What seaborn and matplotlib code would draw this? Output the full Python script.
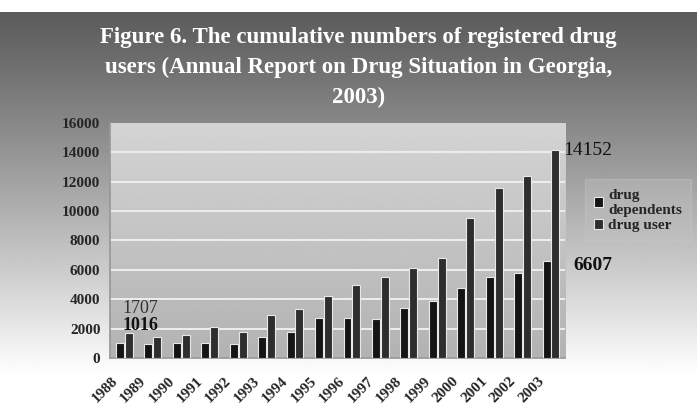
import numpy as np
import pandas as pd
import matplotlib
matplotlib.use("Agg")
import matplotlib.pyplot as plt
import matplotlib.transforms as mtransforms
import seaborn as sns

years = ["1988", "1989", "1990", "1991", "1992", "1993", "1994", "1995",
         "1996", "1997", "1998", "1999", "2000", "2001", "2002", "2003"]
drug_dependents = [1016, 950, 1050, 1050, 950, 1450, 1800, 2750,
                   2750, 2650, 3400, 3900, 4800, 5550, 5800, 6607]
drug_user = [1707, 1450, 1550, 2150, 1800, 2900, 3350, 4250,
             5000, 5550, 6100, 6800, 9500, 11600, 12400, 14152]
series_names = ["drug\ndependents", "drug user"]
y_ticks = [0, 2000, 4000, 6000, 8000, 10000, 12000, 14000, 16000]
title = ("Figure 6. The cumulative numbers of registered drug\n"
         "users (Annual Report on Drug Situation in Georgia,\n2003)")

df = pd.DataFrame({
    "year": years * 2,
    "value": drug_dependents + drug_user,
    "series": [series_names[0]] * len(years) + [series_names[1]] * len(years),
})

sns.set_theme(style="white")
plt.rcParams["font.family"] = ["Liberation Serif", "DejaVu Serif"]

fig = plt.figure(figsize=(6.97, 4.15), dpi=100)

# background gradient
bg = fig.add_axes([0, 0, 1, 1], zorder=-10)
h = 415
grad = np.ones((h, 2))
top_white = 13
for r in range(h):
    if r < top_white:
        grad[r] = 1.0
    else:
        t = (r - top_white) / (375 - top_white)
        t = min(max(t, 0), 1)
        grad[r] = 0.36 + (1.0 - 0.36) * (t ** 1.1)
bg.imshow(grad, cmap="gray", vmin=0, vmax=1, aspect="auto",
          extent=[0, 1, 0, 1], origin="upper")
bg.axis("off")

ax = fig.add_axes([0.158, 0.137, 0.653, 0.567])
# plot area gradient
pa = np.linspace(0.83, 0.70, 100).reshape(-1, 1)
ax.imshow(pa, cmap="gray", vmin=0, vmax=1, aspect="auto",
          extent=[-0.5, len(years) - 0.5, 0, 16000], origin="upper", zorder=0)

palette = {series_names[0]: "#141414", series_names[1]: "#2e2e2e"}
sns.barplot(data=df, x="year", y="value", hue="series", palette=palette,
            width=0.62, gap=0.1, ax=ax, edgecolor="#e8e8e8", linewidth=0.8,
            zorder=3, legend=True)

ax.set_xlim(-0.5, len(years) - 0.5)
ax.set_ylim(0, 16000)
ax.set_yticks(y_ticks)
ax.set_yticklabels([str(v) for v in y_ticks], fontsize=11, fontweight="bold")
ax.set_xticks(range(len(years)))
ax.set_xticklabels(years, rotation=45, ha="right", va="center",
                   rotation_mode="anchor", fontsize=11, fontweight="bold")
ax.tick_params(axis="x", pad=15, length=0)
ax.tick_params(axis="y", pad=7, length=0)
shift = mtransforms.ScaledTranslation(-0.09, 0, fig.dpi_scale_trans)
for lab in ax.get_xticklabels():
    lab.set_transform(lab.get_transform() + shift)
ax.set_xlabel("")
ax.set_ylabel("")
for yv in y_ticks[1:-1]:
    ax.axhline(yv, color="#eeeeee", lw=1.4, zorder=1)
for s in ["top", "right"]:
    ax.spines[s].set_visible(False)
ax.spines["left"].set_color("#999999")
ax.spines["bottom"].set_color("#999999")

# data labels
ax.annotate(str(drug_user[0]), xy=(0, drug_user[0]), xytext=(-1.5, 17.5),
            textcoords="offset points", fontsize=13, color="#333333",
            ha="left", va="center")
ax.annotate(str(drug_dependents[0]), xy=(0, drug_dependents[0]),
            xytext=(-1.5, 12.5), textcoords="offset points", fontsize=13,
            fontweight="bold", color="#111111", ha="left", va="center")
ax.annotate(str(drug_user[-1]), xy=(len(years) - 1, drug_user[-1]),
            xytext=(8.5, 0), textcoords="offset points", fontsize=14,
            color="#111111", ha="left", va="center", annotation_clip=False)
ax.annotate(str(drug_dependents[-1]), xy=(len(years) - 1, drug_dependents[-1]),
            xytext=(16, -3), textcoords="offset points", fontsize=14,
            fontweight="bold", color="#111111", ha="left", va="center",
            annotation_clip=False)

handles, labels = ax.get_legend_handles_labels()
ax.legend_.remove()
leg = fig.legend(handles, labels, loc="upper left",
                 bbox_to_anchor=(0.835, 0.575), frameon=True,
                 prop={"size": 11, "weight": "bold"}, handlelength=0.6,
                 handleheight=0.6, handletextpad=0.3, labelspacing=0.15,
                 borderpad=0.3)
leg.get_frame().set_facecolor("#c4c4c4")
leg.get_frame().set_alpha(0.35)
leg.get_frame().set_edgecolor("#cccccc")
leg.get_frame().set_boxstyle("square")

fig.text(0.514, 0.934, title, ha="center", va="top", color="white",
         fontsize=16.5, fontweight="bold", linespacing=1.55)

fig.savefig("out.png", dpi=100)
